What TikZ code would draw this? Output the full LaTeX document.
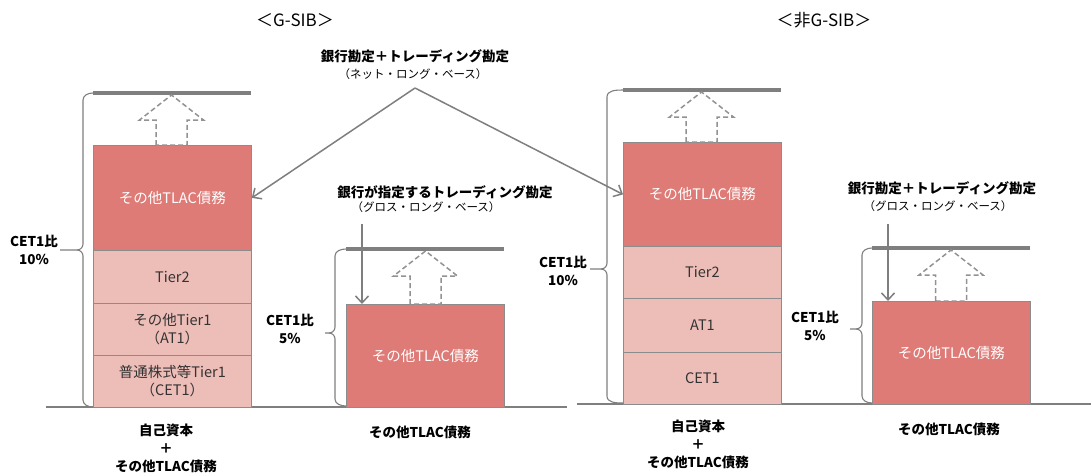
\documentclass[tikz,border=0pt]{standalone}
\usepackage{fontspec}
\setmainfont{Noto Sans CJK JP}
\usetikzlibrary{arrows.meta}
\definecolor{tlac}{HTML}{DE7B77}
\definecolor{capc}{HTML}{EDBDB8}
\definecolor{edgec}{HTML}{8C8C8C}
\definecolor{barc}{HTML}{7F7F7F}
\definecolor{txtc}{HTML}{333333}
\newcommand\uparrw[3]{\draw[dasharrow] ({#1-15.5},#2) -- ({#1-15.5},{#3+25}) -- ({#1-32},{#3+25}) -- (#1,#3) -- ({#1+32},{#3+25}) -- ({#1+15.5},{#3+25}) -- ({#1+15.5},#2) -- cycle;}
\newcommand\bracew[6]{\draw[bracec] (#1,#3) to[out=180,in=90] (#2,{#3+7}) -- (#2,{#4-6}) to[out=-90,in=0] ({#2-6},#4) -- (#6,#4);
\draw[bracec] ({#2-6},#4) to[out=0,in=90] (#2,{#4+6}) -- (#2,{#5-7}) to[out=-90,in=180] (#1,#5);}
\begin{document}
\begin{tikzpicture}[x=1pt,y=-1pt,
 redbox/.style={draw=edgec, fill=tlac, text=white, minimum width=158pt, anchor=north west, inner sep=0pt, font=\fontsize{14.5}{18}\selectfont, line width=0.8pt, align=center},
 pinkbox/.style={redbox, fill=capc, text=txtc},
 thickbar/.style={draw=barc, line width=4pt},
 dasharrow/.style={draw=barc!85, dash pattern=on 5pt off 3pt, line width=1.5pt},
 ptr/.style={draw=barc, line width=1.5pt, -{Straight Barb[length=7pt,width=13pt,line width=1.5pt]}},
 bracec/.style={draw=barc, line width=1.1pt},
 lbl/.style={font=\bfseries\fontsize{13.5}{18}\selectfont, align=center, inner sep=0pt},
 sublbl/.style={font=\fontsize{11.5}{14}\selectfont, inner sep=0pt},
 ttl/.style={font=\fontsize{17}{20}\selectfont, inner sep=0pt},
 basel/.style={draw=barc, line width=2pt}]
\useasboundingbox (0,0) rectangle (1091,474);
\fill[white] (0,0) rectangle (1091,474);

% titles
\node[ttl] (t1) at (295,20) {＜G-SIB＞};
\node[ttl] (t2) at (824,20) {＜非G-SIB＞};

% baselines
\draw[basel] (46,407) -- (567,407);
\draw[basel] (577,404) -- (1091,404);

% left stack (G-SIB)
\node[redbox, minimum height=105pt] (r1) at (93,145) {その他TLAC債務};
\node[pinkbox, minimum height=53pt] (p1) at (93,250) {Tier2};
\node[pinkbox, minimum height=52pt] (p2) at (93,303) {その他Tier1\\（AT1）};
\node[pinkbox, minimum height=52pt] (p3) at (93,355) {普通株式等Tier1\\（CET1）};
\draw[thickbar] (93,93) -- (251,93);
\uparrw{171.5}{145}{95}
\bracew{93}{83}{93}{250}{407}{60}
\node[lbl] (c1) at (34,250) {CET1比\\10\%};

% left second (G-SIB)
\node[redbox, minimum height=103pt] (r2) at (346,304) {その他TLAC債務};
\draw[thickbar] (346,249) -- (504,249);
\uparrw{425.5}{304}{251}
\bracew{346}{335}{249}{333}{406}{325}
\node[lbl] (c2) at (290,329) {CET1比\\5\%};

% right stack (non G-SIB)
\node[redbox, minimum height=104pt] (r3) at (623,142) {その他TLAC債務};
\node[pinkbox, minimum height=52pt] (p4) at (623,246) {Tier2};
\node[pinkbox, minimum height=54pt] (p5) at (623,298) {AT1};
\node[pinkbox, minimum height=52pt] (p6) at (623,352) {CET1};
\draw[thickbar] (623,90) -- (781,90);
\uparrw{701.5}{142}{92}
\bracew{623}{607}{90}{269}{403}{590}
\node[lbl] (c3) at (563,271) {CET1比\\10\%};

% right second (non G-SIB)
\node[redbox, minimum height=103pt] (r4) at (872,301) {その他TLAC債務};
\draw[thickbar] (872,248) -- (1030,248);
\uparrw{951}{301}{250}
\bracew{872}{862}{248}{329}{403}{850}
\node[lbl] (c4) at (815,326) {CET1比\\5\%};

% top label and arrows
\node[lbl] (l1) at (415,56) {銀行勘定＋トレーディング勘定};
\node[sublbl] (s1) at (413,74) {（ネット・ロング・ベース）};
\coordinate (apex) at (415,88);
\draw[ptr] (apex) -- (r1.east);
\draw[ptr] (apex) -- (r3.west);

% left second label
\node[lbl] (l2) at (445,192) {銀行が指定するトレーディング勘定};
\node[sublbl] (s2) at (426,207) {（グロス・ロング・ベース）};
\coordinate (d1) at (362,224);
\draw[ptr] (d1) -- (d1 |- r2.north);

% right second label
\node[lbl] (l3) at (942,188) {銀行勘定＋トレーディング勘定};
\node[sublbl] (s3) at (938,206) {（グロス・ロング・ベース）};
\coordinate (d2) at (888,224);
\draw[ptr] (d2) -- (d2 |- r4.north);

% bottom labels
\node[lbl, anchor=north] (b1) at (166,424) {自己資本\\＋\\その他TLAC債務};
\node[lbl] (b2) at (420,432) {その他TLAC債務};
\node[lbl, anchor=north] (b3) at (698,420) {自己資本\\＋\\その他TLAC債務};
\node[lbl] (b4) at (949,429) {その他TLAC債務};
\end{tikzpicture}
\end{document}
